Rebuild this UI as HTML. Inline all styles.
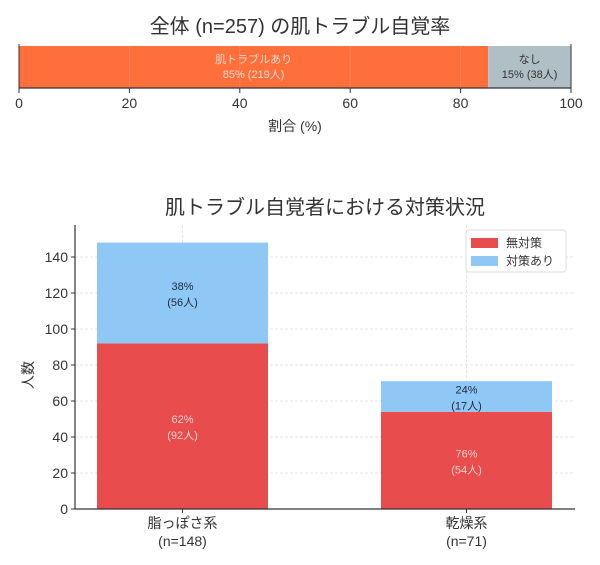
<!DOCTYPE html>
<html><head><meta charset="utf-8">
<style>
body{margin:0;background:#fff;}
svg{display:block;font-family:"Liberation Sans","Noto Sans CJK JP",sans-serif;}
</style></head>
<body>
<svg id="c" width="600" height="565"></svg>
<script>
const topLabels=["肌トラブルあり","なし"];
const topPct=[85,15];
const topCounts=[219,38];
const topTicks=[0,20,40,60,80,100];
const categories=["脂っぽさ系","乾燥系"];
const catN=[148,71];
const noAction=[92,54];
const withAction=[56,17];
const noPct=[62,76];
const withPct=[38,24];
const yTicks=[0,20,40,60,80,100,120,140];

const svg=document.getElementById('c');
const NS="http://www.w3.org/2000/svg";
function el(tag,attrs,parent,text){const e=document.createElementNS(NS,tag);for(const k in attrs)e.setAttribute(k,attrs[k]);if(text!==undefined)e.textContent=text;(parent||svg).appendChild(e);return e;}

// ---- top chart
const tx=v=>19+v*(571-19)/100;
let t=el('text',{x:300,y:33,'text-anchor':'middle','font-size':20,fill:'#333'},svg,'全体 (n=257) の肌トラブル自覚率');

const topColors=['#ff6f3c','#b0bec5'];
let acc=0;
topPct.forEach((p,i)=>{
  const r=el('rect',{x:tx(acc),y:46,width:tx(acc+p)-tx(acc),height:42,fill:topColors[i]});
  
  const cx=tx(acc+p/2);const col=i==0?'#ffd9c8':'#333';
  let a=el('text',{x:cx,y:63,'text-anchor':'middle','font-size':11,fill:col},svg,topLabels[i]);
  
  let b=el('text',{x:cx,y:78,'text-anchor':'middle','font-size':11,fill:col},svg,p+'% ('+topCounts[i]+'人)');
  
  acc+=p;
});
topTicks.forEach(v=>{
  el('line',{x1:tx(v),x2:tx(v),y1:46,y2:88,stroke:'rgba(255,255,255,0.15)'});
  el('line',{x1:tx(v),x2:tx(v),y1:88,y2:93,stroke:'#333'});
  let l=el('text',{x:tx(v),y:108,'text-anchor':'middle','font-size':14,fill:'#333'},svg,v);
  
});
el('line',{x1:19,x2:571,y1:88,y2:88,stroke:'#333','stroke-width':1.2});
el('line',{x1:19,x2:19,y1:44,y2:88,stroke:'#333'});
el('line',{x1:571,x2:571,y1:44,y2:88,stroke:'#333'});
let xt=el('text',{x:295,y:131,'text-anchor':'middle','font-size':14,fill:'#333'},svg,'割合 (%)');


// ---- bottom chart
const y0=509, yPer=(509-257)/140;
const ys=v=>y0-v*yPer;
const left=75,right=575,plotTop=225;
const barW=171;const centers=[182.5,466.5];
let t2=el('text',{x:325,y:214,'text-anchor':'middle','font-size':20,fill:'#333'},svg,'肌トラブル自覚者における対策状況');

yTicks.forEach(v=>{
  el('line',{x1:left,x2:right,y1:ys(v),y2:ys(v),stroke:'#e6e6e6','stroke-dasharray':'3,2'});
  el('line',{x1:left-4,x2:left,y1:ys(v),y2:ys(v),stroke:'#333'});
  let l=el('text',{x:left-7,y:ys(v)+5,'text-anchor':'end','font-size':14,fill:'#333'},svg,v);
  
});
centers.forEach(c=>el('line',{x1:c,x2:c,y1:plotTop,y2:y0,stroke:'#e6e6e6','stroke-dasharray':'3,2'}));
categories.forEach((cat,i)=>{
  const c=centers[i];
  const r1=el('rect',{x:c-barW/2,y:ys(noAction[i]),width:barW,height:ys(0)-ys(noAction[i]),fill:'#e84c4c'});
  
  const tot=noAction[i]+withAction[i];
  const r2=el('rect',{x:c-barW/2,y:ys(tot),width:barW,height:ys(noAction[i])-ys(tot),fill:'#90c8f5'});
  
  const m1=ys(noAction[i]/2);
  el('text',{x:c,y:m1-3,'text-anchor':'middle','font-size':11,fill:'#ffd0d0'},svg,noPct[i]+'%');
  el('text',{x:c,y:m1+13,'text-anchor':'middle','font-size':11,fill:'#ffd0d0'},svg,'('+noAction[i]+'人)');
  const m2=ys(noAction[i]+withAction[i]/2);
  el('text',{x:c,y:m2-3,'text-anchor':'middle','font-size':11,fill:'#1a2a40'},svg,withPct[i]+'%');
  el('text',{x:c,y:m2+13,'text-anchor':'middle','font-size':11,fill:'#1a2a40'},svg,'('+withAction[i]+'人)');
  el('line',{x1:c,x2:c,y1:y0,y2:y0+4,stroke:'#333'});
  let a=el('text',{x:c,y:528,'text-anchor':'middle','font-size':14,fill:'#333'},svg,cat);
  
  let b=el('text',{x:c,y:546,'text-anchor':'middle','font-size':14,fill:'#333'},svg,'(n='+catN[i]+')');
  
});
el('line',{x1:left,x2:left,y1:plotTop,y2:y0,stroke:'#333','stroke-width':1.2});
el('line',{x1:left,x2:right,y1:y0,y2:y0,stroke:'#333','stroke-width':1.2});
let yl=el('text',{x:0,y:0,'text-anchor':'middle','font-size':14,fill:'#333',transform:'translate(33,375) rotate(-90)'},svg,'人数');

// legend
const lg=el('g',{});

el('rect',{x:466,y:230,width:100,height:42,fill:'#fff',stroke:'#ddd',rx:3},lg);
el('rect',{x:471,y:238,width:27,height:10,fill:'#e84c4c'},lg);
el('text',{x:506,y:247,'font-size':12,fill:'#333'},lg,'無対策');
el('rect',{x:471,y:256,width:27,height:10,fill:'#90c8f5'},lg);
el('text',{x:506,y:265,'font-size':12,fill:'#333'},lg,'対策あり');
</script>
</body></html>
